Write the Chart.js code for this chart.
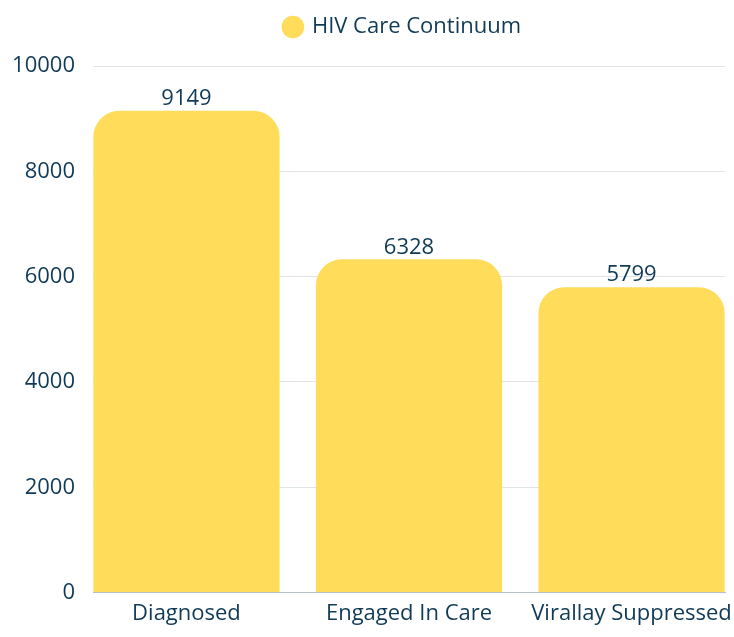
<!DOCTYPE html>
<html>
<head>
<meta charset="utf-8">
<script src="https://cdn.jsdelivr.net/npm/chart.js@4/dist/chart.umd.min.js"></script>
<style>
    body { margin: 0; background: #fff; }
    #wrap { width: 734px; height: 637px; }
</style>
</head>
<body>
<div id="wrap"><canvas id="care-chart"></canvas></div>
<script>
const categories = ['Diagnosed', 'Engaged In Care', 'Virallay Suppressed'];
const patientCounts = [9149, 6328, 5799];
const seriesName = 'HIV Care Continuum';
const yTicks = [0, 2000, 4000, 6000, 8000, 10000];

const navy = '#103a56';
const yellow = '#ffdc5a';
const fontName = '"Open Sans", Lato, sans-serif';
Chart.defaults.font.family = fontName;
Chart.defaults.color = navy;

// draws the number above each bar
const valueLabels = {
    id: 'valueLabels',
    afterDatasetsDraw(chart) {
        const ctx = chart.ctx;
        const meta = chart.getDatasetMeta(0);
        ctx.save();
        ctx.font = '22px ' + fontName;
        ctx.fillStyle = navy;
        ctx.textAlign = 'center';
        ctx.textBaseline = 'bottom';
        meta.data.forEach((bar, i) => {
            ctx.fillText(patientCounts[i], bar.x, bar.y - 1);
        });
        ctx.restore();
    }
};

// extra space under the legend, and legend centred over the plot area
const legendGap = {
    id: 'legendGap',
    beforeInit(chart) {
        const fit = chart.legend.fit;
        chart.legend.fit = function () {
            fit.bind(chart.legend)();
            this.height += 18;
        };
    },
    afterLayout(chart) {
        const shift = (chart.chartArea.left + chart.chartArea.right) / 2 - (chart.legend.left + chart.legend.right) / 2 - 6;
        chart.legend.left += shift;
        chart.legend.right += shift;
    }
};

const ctx = document.getElementById('care-chart').getContext('2d');
const careChart = new Chart(ctx, {
    type: 'bar',
    data: {
        datasets: [{
            label: seriesName,
            data: patientCounts.map((v, i) => ({ x: i, y: v })),
            backgroundColor: yellow,
            borderRadius: 26,
            borderSkipped: 'bottom',
            categoryPercentage: 1,
            barPercentage: 0.837
        }]
    },
    options: {
        responsive: true,
        maintainAspectRatio: false,
        animation: false,
        layout: {
            padding: { left: 0, right: 9, top: 4, bottom: 10 }
        },
        scales: {
            x: {
                type: 'linear',
                min: -0.42,
                max: 2.42,
                offset: false,
                grid: { display: false, offset: false },
                border: { display: true, color: '#b4c0cb' },
                afterFit: (axis) => { axis.paddingLeft = 0; axis.paddingRight = 0; },
                ticks: {
                    stepSize: 1,
                    includeBounds: false,
                    autoSkip: false,
                    maxRotation: 0,
                    padding: 0,
                    font: { size: 22 },
                    callback: (v) => categories[v] ?? ''
                }
            },
            y: {
                min: 0,
                max: 10000,
                afterBuildTicks: (axis) => { axis.ticks = yTicks.map(v => ({ value: v })); },
                afterFit: (axis) => { axis.width = 93; },
                grid: { color: '#dfe4ea', drawTicks: false },
                border: { display: false },
                ticks: {
                    padding: 18,
                    font: { size: 22 },
                    callback: (v) => String(v)
                }
            }
        },
        plugins: {
            legend: {
                labels: {
                    usePointStyle: true,
                    pointStyle: 'circle',
                    boxWidth: 16,
                    boxHeight: 16,
                    font: { size: 22 },
                    padding: 12
                }
            },
            tooltip: { enabled: false }
        }
    },
    plugins: [valueLabels, legendGap]
});
</script>
</body>
</html>
